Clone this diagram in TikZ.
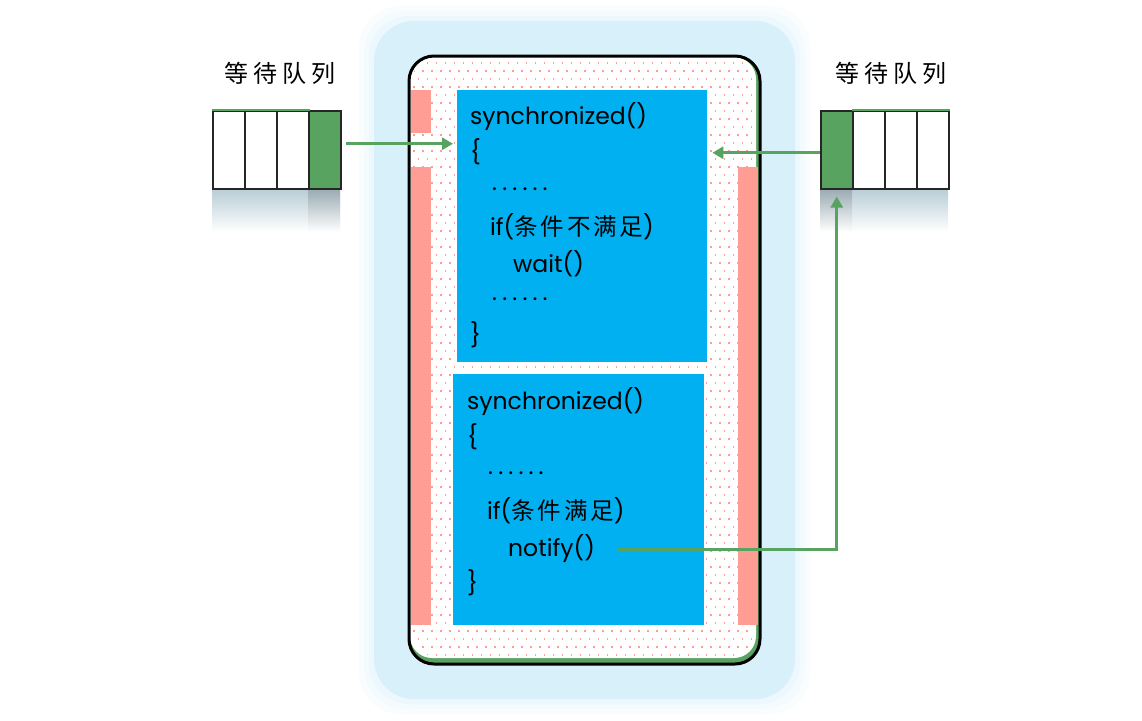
\documentclass[tikz,border=0pt]{standalone}
\usepackage{fontspec}
\setmainfont{Poppins}
\newfontfamily\cjk[LetterSpace=22]{Noto Sans CJK SC}
\newfontfamily\cjkcode[LetterSpace=12]{Noto Sans CJK SC}
\usetikzlibrary{arrows.meta,positioning}

\definecolor{codeblue}{HTML}{00B0F0}
\definecolor{barpink}{HTML}{FF9D95}
\definecolor{queuegreen}{HTML}{58A360}
\definecolor{glowblue}{HTML}{D8F0FA}

\newcommand{\codedots}{{\addfontfeature{LetterSpace=22}......}}

\tikzset{
	codeline/.style={anchor=base west, inner sep=0pt, font=\fontsize{23.5}{23.5}\selectfont},
	codebox/.style={fill=codeblue, inner sep=0pt, anchor=north west},
	cell/.style={draw=black!85, line width=1.5pt, minimum width=32pt, minimum height=78pt, inner sep=0pt, anchor=north west},
	flow/.style={draw=queuegreen, line width=3pt, -{Triangle[length=11pt,width=12pt]}},
	qlabel/.style={inner sep=0pt, font=\cjk\fontsize{24}{24}\selectfont}
}

\begin{document}
\begin{tikzpicture}[x=1pt,y=-1pt]
	\useasboundingbox (0,0) rectangle (1142,720);
	% glow round the monitor
	\foreach \d/\o in {50/0.12, 45/0.18, 40/0.3, 35/1}
		\fill[glowblue, opacity=\o, rounded corners=40] (409-\d,56-\d) rectangle (760+\d,664+\d);
	% monitor
	\fill[queuegreen, rounded corners=25] (409,56) rectangle (760,664);
	\fill[white, rounded corners=22] (410,57) rectangle (756,658);
	\begin{scope}
		\clip[rounded corners=22] (412,59) rectangle (754,656);
		\foreach \y [count=\r] in {62,70,...,656}
			\foreach \x in {413,422,...,755}
				\fill[barpink] ({\x+mod(\r,2)*4.5},\y) rectangle ++(1.6,1.8);
	\end{scope}
	\draw[line width=3pt, rounded corners=25] (409,56) rectangle (760,664);
	\fill[barpink] (411,90) rectangle (431,133);
	\fill[barpink] (411,167) rectangle (431,625);
	\fill[barpink] (738,167) rectangle (758,625);
	% code blocks
	\node[codebox, minimum width=250pt, minimum height=272pt] (waitbox) at (457,90) {};
	\node[codebox, minimum width=251pt, minimum height=251pt] (notifybox) at (453,374) {};
	\node[codeline] (w1) at (470,124) {synchronized()};
	\node[codeline] (w2) at (470,160) {\{};
	\node[codeline] (w3) at (492,190) {\codedots};
	\node[codeline] (w4) at (490,235) {if({\cjkcode 条件不满足})};
	\node[codeline] (w5) at (513,272) {wait()};
	\node[codeline] (w6) at (492,300) {\codedots};
	\node[codeline] (w7) at (470,343) {\}};
	\node[codeline] (n1) at (467,409) {synchronized()};
	\node[codeline] (n2) at (467,445) {\{};
	\node[codeline] (n3) at (488,474) {\codedots};
	\node[codeline] (n4) at (487,519) {if({\cjkcode 条件满足})};
	\node[codeline] (n5) at (508,556) {notify()};
	\node[codeline] (n6) at (467,591) {\}};
	% waiting queues
	\shade[top color=black!14!glowblue, bottom color=white] (212,190) rectangle (340,232);
	\shade[top color=black!28!glowblue, bottom color=white] (308,190) rectangle (340,232);
	\shade[top color=black!14!glowblue, bottom color=white] (820,190) rectangle (948,232);
	\shade[top color=black!28!glowblue, bottom color=white] (820,190) rectangle (852,232);
	\foreach \i in {1,2,3}
		\node[cell] (lq\i) at ({212+32*(\i-1)},110) {};
	\node[cell, fill=queuegreen] (lq4) at (308,110) {};
	\node[cell, fill=queuegreen] (rq1) at (820,110) {};
	\foreach \i in {2,3,4}
		\node[cell] (rq\i) at ({820+32*(\i-1)},110) {};
	\draw[queuegreen, line width=1.5pt] (lq1.north west) -- (lq3.north east);
	\draw[queuegreen, line width=1.5pt] (rq2.north west) -- (rq4.north east);
	\node[qlabel] (lqlabel) at (280,73) {等待队列};
	\node[qlabel] (rqlabel) at (891,73) {等待队列};
	% arrows
	\draw[flow] ([xshift=4pt,yshift=6pt]lq4.east) -- ([xshift=-4pt,yshift=6pt]lq4.east -| waitbox.west);
	\draw[flow] ([yshift=-3pt]rq1.west) -- ([xshift=5pt,yshift=-3pt]rq1.west -| waitbox.east);
	\draw[flow] ([xshift=22pt,yshift=7pt]n5.base east) -- ([yshift=7pt]n5.base east -| rq1.south) -- ([yshift=-7pt]rq1.south);
\end{tikzpicture}
\end{document}
